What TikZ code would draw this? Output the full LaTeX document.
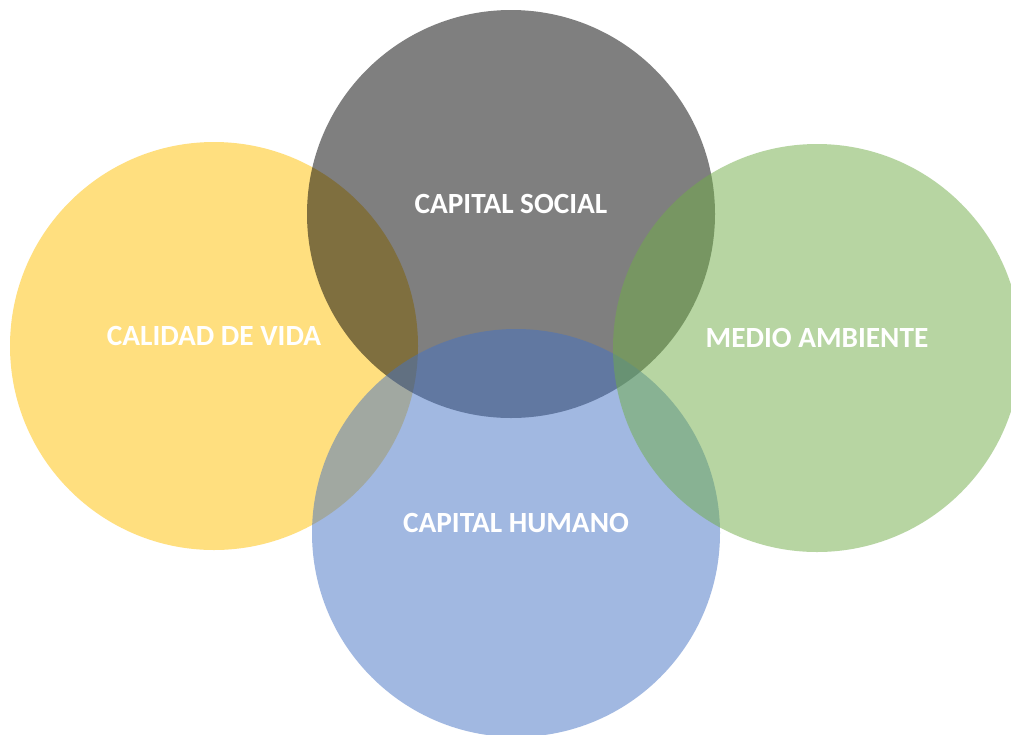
\documentclass[tikz,border=0pt]{standalone}
\usepackage{fontspec}
\setmainfont{Carlito}
\definecolor{cyellow}{HTML}{FFC000}
\definecolor{cblue}{HTML}{4472C4}
\definecolor{cgreen}{HTML}{70AD47}
\definecolor{cgray}{HTML}{000000}
\tikzset{
  venn/.style={circle, minimum size=408pt, inner sep=0pt, draw=none, fill opacity=0.5},
  lbl/.style={text=white, font=\fontsize{29.3}{33}\selectfont\bfseries, inner sep=0pt}
}
\begin{document}
\begin{tikzpicture}[x=1pt,y=-1pt]
\useasboundingbox (0,0) rectangle (1011,734);
\fill[white] (0,0) rectangle (1011,734);
\clip (0,0) rectangle (1011,734);
\node[venn, fill=cyellow] (vida) at (214,346) {};
\node[venn, fill=cgray] (social) at (511,214) {};
\node[venn, fill=cblue] (humano) at (516,533) {};
\node[venn, fill=cgreen] (medio) at (817,348) {};
\node[lbl] (tsocial) at (511,204) {CAPITAL SOCIAL};
\node[lbl] (tvida) at (214,336) {CALIDAD DE VIDA};
\node[lbl] (tmedio) at (817,338) {MEDIO AMBIENTE};
\node[lbl] (thumano) at (516,523) {CAPITAL HUMANO};
\end{tikzpicture}
\end{document}
